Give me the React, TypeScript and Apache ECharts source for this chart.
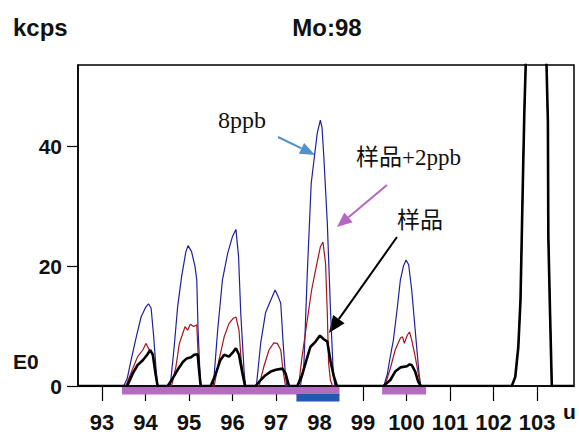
import React, { useEffect, useRef } from "react";
import * as echarts from "echarts";

// ---- data (mass in u, intensity in kcps) ----
const xTicks = [93, 94, 95, 96, 97, 98, 99, 100, 101, 102, 103];
const yTicks = [0, 20, 40];

// shared off-scale peak around 102.5-103.3 u
const bigPeak: [number, number][] = [
  [102.42, 0], [102.5, 1.5], [102.57, 6.5], [102.62, 14.3], [102.65, 25], [102.68, 36],
  [102.71, 46], [102.75, 56], [102.9, 300], [103.05, 300], [103.21, 56], [103.25, 44],
  [103.26, 25], [103.3, 12], [103.34, 0],
];

const blue8ppb: [number, number][] = [
  [92.45, 0], [93.5, 0], [93.58, 1.2], [93.67, 4.3], [93.79, 8.2], [93.9, 11.5], [94.01, 13.2], [94.07, 13.7],
  [94.13, 13], [94.19, 8.2], [94.24, 3.2], [94.28, 0],
  [94.57, 0], [94.66, 6.5], [94.74, 13.2], [94.83, 18.2], [94.93, 22.4], [94.98, 23.4], [95.06, 22.4],
  [95.14, 19.9], [95.18, 17.7], [95.21, 9.3], [95.26, 1], [95.28, 0],
  [95.56, 0], [95.66, 9.3], [95.77, 17.7], [95.89, 22.1], [96.0, 24.9], [96.08, 26.1], [96.14, 21.6],
  [96.19, 12.2], [96.27, 2.2], [96.3, 0],
  [96.55, 0], [96.65, 7.2], [96.76, 12.2], [96.88, 14.3], [96.98, 16], [97.05, 14.9], [97.11, 13.8],
  [97.16, 7.7], [97.22, 1.5], [97.25, 0],
  [97.56, 0], [97.64, 3.2], [97.72, 18.8], [97.81, 33.8], [97.88, 38], [97.95, 42.2], [98.02, 44.3],
  [98.06, 43], [98.1, 38.2], [98.18, 27.2], [98.25, 13.2], [98.31, 3.2], [98.35, 0],
  [99.48, 0], [99.56, 2], [99.63, 5], [99.7, 7.7], [99.78, 12.5], [99.86, 17.7], [99.93, 20], [99.99, 21],
  [100.05, 20.2], [100.12, 16], [100.18, 11], [100.24, 6], [100.29, 2], [100.33, 0],
  ...bigPeak, [103.85, 0],
];

const redSample2ppb: [number, number][] = [
  [92.45, 0], [93.55, 0], [93.67, 2.2], [93.82, 4.9], [93.94, 6], [94.01, 7.1], [94.09, 6], [94.17, 5.5],
  [94.24, 1.5], [94.28, 0],
  [94.6, 0], [94.7, 3.2], [94.78, 7.1], [94.86, 8.8], [94.91, 9.9], [94.97, 9.3], [95.03, 10.3], [95.11, 9.9],
  [95.18, 10.2], [95.21, 5.4], [95.26, 1], [95.28, 0],
  [95.58, 0], [95.69, 4.3], [95.81, 8.2], [95.92, 10.4], [96.02, 11.3], [96.08, 11.5], [96.15, 9.3],
  [96.2, 4.3], [96.27, 1], [96.3, 0],
  [96.61, 0], [96.72, 3.2], [96.84, 6], [96.95, 7.2], [97.03, 7.1], [97.11, 6], [97.16, 2.7], [97.22, 0],
  [97.52, 0], [97.6, 4.9], [97.72, 11], [97.82, 16], [97.91, 19.3], [98.02, 23.2], [98.08, 24], [98.14, 20.4],
  [98.18, 12.1], [98.21, 3.8], [98.25, 1], [98.3, 0],
  [99.5, 0], [99.62, 2.7], [99.74, 6], [99.86, 8], [99.91, 8.2], [99.95, 7.1], [100.02, 8.5], [100.07, 9],
  [100.12, 7.7], [100.2, 4.9], [100.27, 2.1], [100.32, 0],
  ...bigPeak, [103.85, 0],
];

const blackSample: [number, number][] = [
  [92.45, 0], [93.58, 0], [93.71, 2.1], [93.82, 3.5], [93.94, 4.3], [94.04, 5.2], [94.11, 6], [94.17, 5.2],
  [94.23, 2.1], [94.28, 0],
  [94.51, 0], [94.63, 1.3], [94.74, 2.7], [94.86, 4], [94.95, 4.6], [95.05, 4.8], [95.12, 5.2], [95.2, 5.3],
  [95.24, 2.1], [95.27, 0],
  [95.5, 0], [95.62, 2.1], [95.72, 4.3], [95.81, 5.2], [95.92, 4.9], [96.02, 5.7], [96.08, 6.3], [96.15, 5.2],
  [96.23, 2.1], [96.29, 0],
  [96.53, 0], [96.65, 1], [96.76, 1.8], [96.88, 2.4], [97.0, 2.7], [97.15, 2.9], [97.22, 2.1], [97.3, 0],
  [97.49, 0], [97.6, 1.8], [97.7, 4.3], [97.79, 6.5], [97.91, 7.4], [98.01, 8.4], [98.1, 7.8], [98.18, 7.4],
  [98.25, 4.3], [98.33, 1.6], [98.4, 0],
  [99.47, 0], [99.63, 1], [99.74, 2.4], [99.86, 3.1], [100.01, 3.3], [100.07, 3.6], [100.12, 3.5],
  [100.2, 2.4], [100.27, 0.7], [100.33, 0],
  ...bigPeak, [103.85, 0],
];

// integration windows (u)
const purpleWindows: [number, number][] = [[93.46, 98.46], [99.44, 100.45]];
const blueWindows: [number, number][] = [[97.47, 98.46]];

const NARROW = '"Liberation Sans Narrow", "Arial Narrow", "Liberation Sans", Arial, sans-serif';
const SERIF = '"Liberation Serif", "Times New Roman", "Noto Sans CJK SC", serif';

function arrow(x1: number, y1: number, x2: number, y2: number, color: string, lw: number, hl: number, hw: number) {
  const dx = x2 - x1, dy = y2 - y1;
  const L = Math.sqrt(dx * dx + dy * dy);
  const ux = dx / L, uy = dy / L;
  const bx = x2 - ux * hl, by = y2 - uy * hl;
  const px = -uy, py = ux;
  return [
    { type: "line", shape: { x1, y1, x2: bx, y2: by }, style: { stroke: color, lineWidth: lw } },
    {
      type: "polygon",
      shape: { points: [[x2, y2], [bx + (px * hw) / 2, by + (py * hw) / 2], [bx - (px * hw) / 2, by - (py * hw) / 2]] },
      style: { fill: color },
    },
  ];
}

function windowSeries(data: [number, number][], color: string, offset: number) {
  return {
    type: "custom",
    clip: false,
    silent: true,
    z: 5,
    data,
    encode: { x: [0, 1] },
    renderItem: (_params: any, api: any) => {
      const s = api.coord([api.value(0), 0]);
      const e = api.coord([api.value(1), 0]);
      return {
        type: "rect",
        shape: { x: s[0], y: s[1] + offset, width: e[0] - s[0], height: 7.5 },
        style: { fill: color },
      };
    },
  };
}

export default function App() {
  const ref = useRef<HTMLDivElement>(null);
  useEffect(() => {
    if (!ref.current) return;
    const chart = echarts.init(ref.current, null, { renderer: "svg" });
    const text = (t: string, x: number, y: number, size: number, family: string, weight: string, align = "left") => ({
      type: "text",
      x,
      y,
      z: 10,
      style: { text: t, fontSize: size, fontFamily: family, fontWeight: weight, fill: "#111", align, verticalAlign: "middle" },
    });
    chart.setOption({
      animation: false,
      backgroundColor: "#fff",
      grid: {
        left: 78,
        top: 65,
        right: 5,
        bottom: 51,
        show: true,
        borderColor: "#000",
        borderWidth: 1.5,
        outerBoundsMode: "none",
      },
      xAxis: {
        type: "value",
        min: 92.45,
        max: 103.85,
        axisLine: { show: true, lineStyle: { color: "#000", width: 1.5 } },
        axisTick: { show: true, length: 15, customValues: xTicks, lineStyle: { color: "#000", width: 1.2 } },
        axisLabel: {
          customValues: xTicks,
          margin: 25,
          fontSize: 22,
          fontFamily: NARROW,
          fontWeight: "bold",
          color: "#111",
          hideOverlap: false,
        },
        splitLine: { show: false },
      },
      yAxis: {
        type: "value",
        min: 0,
        max: 53.5,
        axisLine: { show: true, lineStyle: { color: "#000", width: 1.5 } },
        axisTick: { show: true, length: 11, customValues: yTicks, lineStyle: { color: "#000", width: 1.2 } },
        axisLabel: {
          customValues: yTicks,
          margin: 16,
          fontSize: 21,
          fontFamily: NARROW,
          fontWeight: "bold",
          color: "#111",
        },
        splitLine: { show: false },
      },
      series: [
        {
          name: "8ppb",
          type: "line",
          data: blue8ppb,
          showSymbol: false,
          lineStyle: { color: "#1f1f9e", width: 1.2 },
          clip: true,
          z: 2,
        },
        {
          name: "样品+2ppb",
          type: "line",
          data: redSample2ppb,
          showSymbol: false,
          lineStyle: { color: "#a3161c", width: 1.2 },
          clip: true,
          z: 3,
        },
        {
          name: "样品",
          type: "line",
          data: blackSample,
          showSymbol: false,
          lineStyle: { color: "#000", width: 2.6 },
          clip: true,
          z: 4,
        },
        windowSeries(purpleWindows, "#b36cbf", 1),
        windowSeries(blueWindows, "#2457b0", 8),
      ],
      graphic: [
        text("kcps", 13, 27, 24, NARROW, "bold"),
        text("Mo:98", 327, 27, 24, NARROW, "bold", "center"),
        text("E0", 13, 361, 21, NARROW, "bold"),
        text("u", 563, 411, 21, NARROW, "bold"),
        text("8ppb", 242, 120, 24, SERIF, "normal", "center"),
        text("样品+2ppb", 356, 157, 23, SERIF, "normal"),
        text("样品", 397, 220, 23, SERIF, "normal"),
        ...arrow(278, 137, 315, 155, "#4f93c9", 2, 15, 12),
        ...arrow(387, 185, 337, 227, "#b566c0", 2, 15, 13),
        ...arrow(397, 237, 329, 333, "#000", 2, 17, 14),
      ],
    });
    return () => chart.dispose();
  }, []);
  return <div ref={ref} style={{ position: "fixed", left: 0, top: 0, width: 579, height: 437 }} />;
}
